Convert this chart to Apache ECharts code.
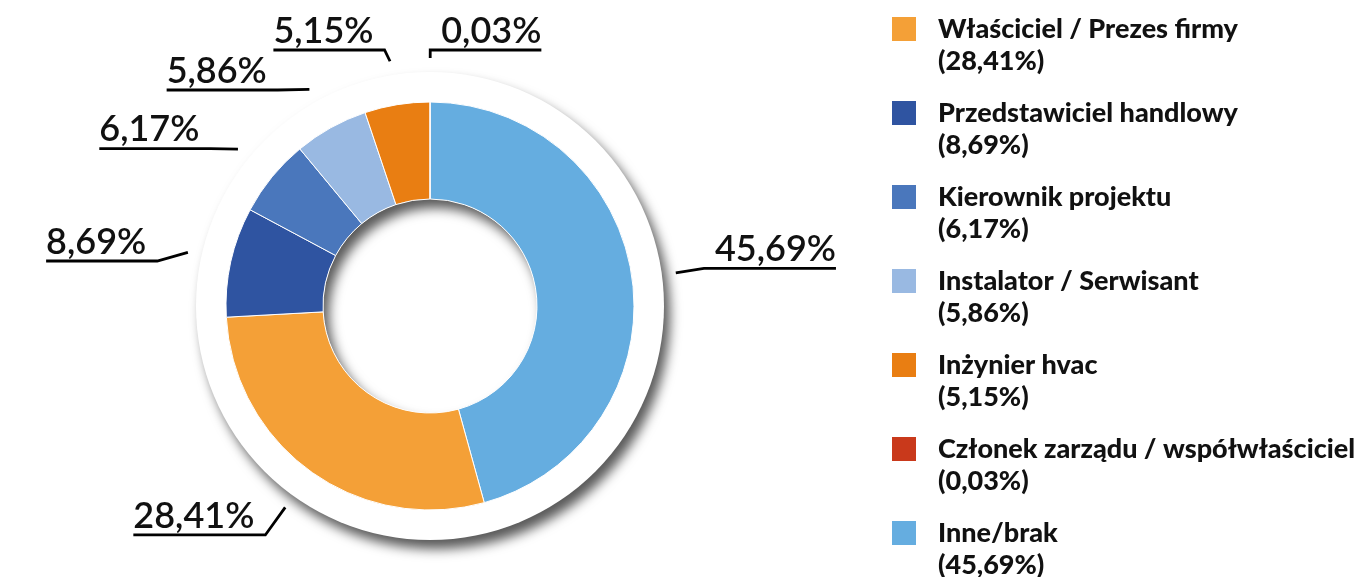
<!DOCTYPE html>
<html>
<head>
<meta charset="utf-8">
<script src="https://cdn.jsdelivr.net/npm/echarts@6/dist/echarts.min.js"></script>
<style>
  html, body { margin: 0; padding: 0; background: #fff; }
  #chart { width: 1354px; height: 577px; }
</style>
</head>
<body>
<div id="chart"></div>
<script>
// slices in drawing order (clockwise from 12 o'clock)
const categories = [
  'Inne/brak',
  'Właściciel / Prezes firmy',
  'Przedstawiciel handlowy',
  'Kierownik projektu',
  'Instalator / Serwisant',
  'Inżynier hvac',
  'Członek zarządu / współwłaściciel'
];
const shares = [45.69, 28.41, 8.69, 6.17, 5.86, 5.15, 0.03];
const sliceColors = ['#65ade0', '#f4a037', '#2f54a1', '#4a77bc', '#99b9e2', '#e97e12', '#c9391b'];

// legend goes in a different order than the slices
const legendOrder = [
  'Właściciel / Prezes firmy',
  'Przedstawiciel handlowy',
  'Kierownik projektu',
  'Instalator / Serwisant',
  'Inżynier hvac',
  'Członek zarządu / współwłaściciel',
  'Inne/brak'
];

const CX = 430;
const CY = 306;
const VIEW_TOP = 30;
const R_IN = 107;
const R_OUT = 204;
const R_DISC = 234;
const LINE_START = 248;

const fmtPct = (v) => v.toFixed(2).replace('.', ',') + '%';

const chart = echarts.init(document.getElementById('chart'));

const pieData = categories.map((name, i) => ({
  name,
  value: shares[i],
  itemStyle: { color: sliceColors[i] }
}));

const quiet = {
  type: 'pie',
  silent: true,
  top: VIEW_TOP,
  center: [CX, CY - VIEW_TOP],
  label: { show: false },
  labelLine: { show: false },
  emphasis: { disabled: true },
  animation: false
};

const dropShadow = {
  color: '#fff',
  shadowBlur: 12,
  shadowOffsetX: 6,
  shadowOffsetY: 9,
  shadowColor: 'rgba(0,0,0,0.65)'
};

const option = {
  backgroundColor: '#fff',
  legend: {
    data: legendOrder,
    orient: 'vertical',
    left: 885,
    top: -24,
    height: 700,
    itemWidth: 26,
    itemHeight: 26,
    itemGap: -12,
    icon: 'rect',
    selectedMode: false,
    // leading blank line keeps the name level with the swatch
    formatter: (name) => '\n' + name + '\n(' + fmtPct(shares[categories.indexOf(name)]) + ')',
    textStyle: {
      fontFamily: 'Lato',
      fontWeight: 900,
      fontSize: 27,
      lineHeight: 32,
      color: '#111',
      padding: [0, 0, 0, 16]
    }
  },
  series: [
    // white plate behind the donut
    Object.assign({}, quiet, {
      radius: [0, R_DISC],
      data: [{ value: 1, name: 'plate' }],
      itemStyle: dropShadow
    }),
    // ring that casts the soft shadow into the hole
    Object.assign({}, quiet, {
      radius: [R_IN, R_IN + 30],
      data: [{ value: 1, name: 'hole' }],
      itemStyle: dropShadow
    }),
    {
      type: 'pie',
      top: VIEW_TOP,
      center: [CX, CY - VIEW_TOP],
      radius: [R_IN, R_OUT],
      startAngle: 89.9,
      clockwise: true,
      avoidLabelOverlap: true,
      animation: false,
      data: pieData,
      itemStyle: { borderColor: '#fff', borderWidth: 1 },
      emphasis: { disabled: true },
      label: {
        show: true,
        position: 'outside',
        formatter: (p) => fmtPct(p.value),
        fontFamily: 'Lato',
        fontWeight: 600,
        fontSize: 36,
        lineHeight: 38,
        color: '#111'
      },
      labelLine: {
        show: true,
        length: 78,
        length2: 6,
        lineStyle: { color: '#000', width: 2.8 }
      },
      labelLayout: (params) => {
        const pts = params.labelLinePoints;
        if (!pts) return {};
        const r = params.labelRect;
        const dx = pts[0][0] - CX;
        const dy = pts[0][1] - CY;
        const d = Math.sqrt(dx * dx + dy * dy) || 1;
        const start = [CX + dx / d * LINE_START, CY + dy / d * LINE_START];
        const isLeft = pts[2][0] < pts[1][0];
        const endX = isLeft ? r.x : r.x + r.width;
        return {
          dy: -r.height / 2,
          labelLinePoints: [start, pts[1], [endX, pts[2][1]]]
        };
      }
    }
  ]
};

chart.setOption(option);
</script>
</body>
</html>
